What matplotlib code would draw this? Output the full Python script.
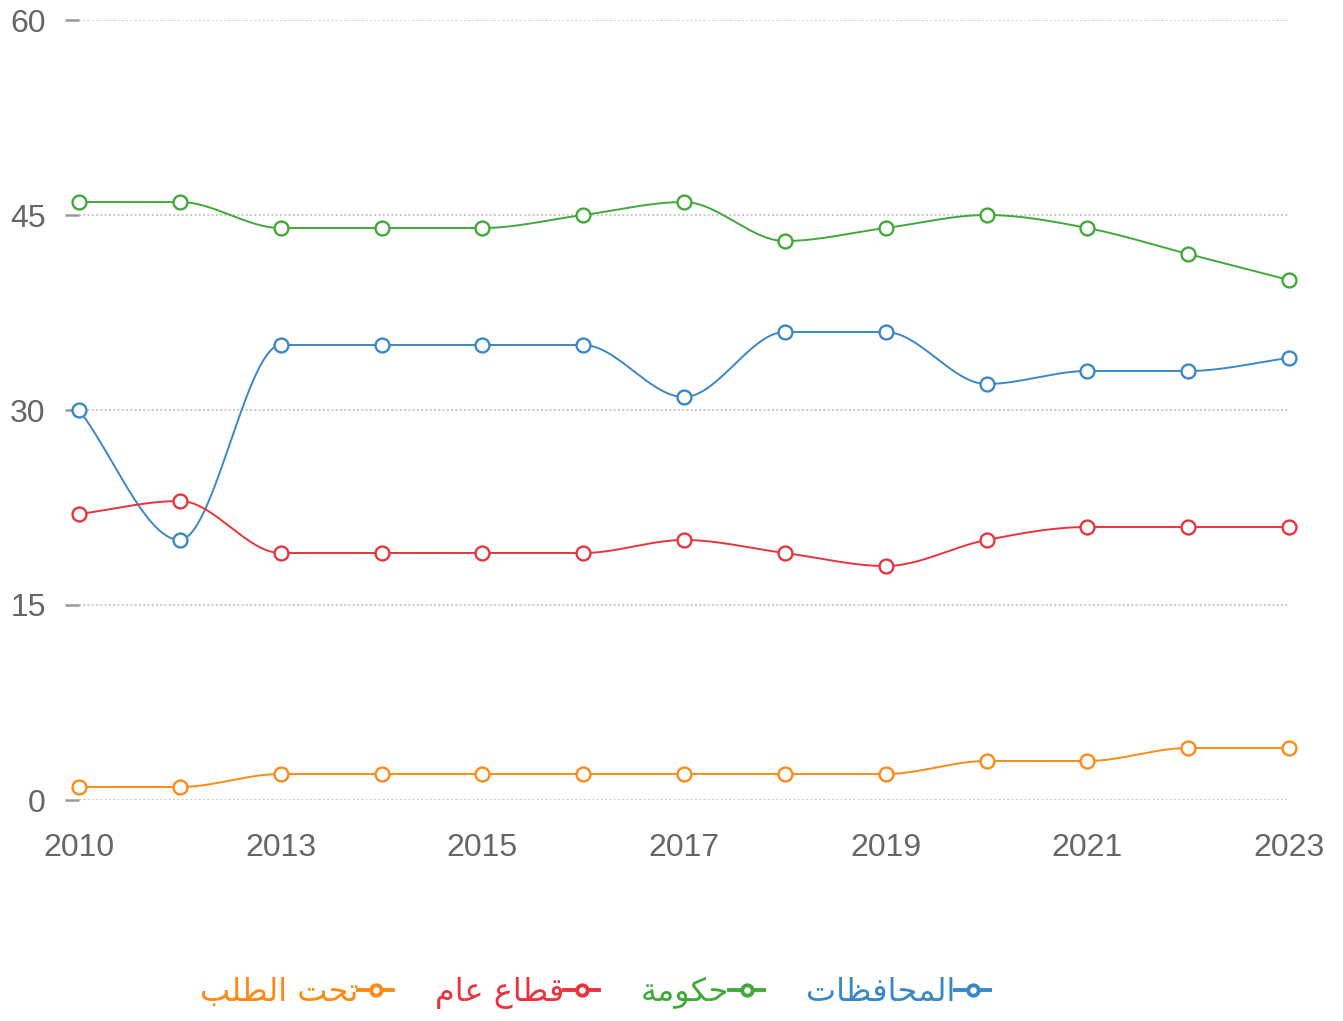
import numpy as np
import matplotlib
matplotlib.use("Agg")
import matplotlib.pyplot as plt
from matplotlib.lines import Line2D

plt.rcParams['font.family'] = ['Liberation Sans', 'DejaVu Sans']

years = ['2010', '2011', '2013', '2014', '2015', '2016', '2017',
         '2018', '2019', '2020', '2021', '2022', '2023']
tick_labels = ['2010', '2013', '2015', '2017', '2019', '2021', '2023']

governorates = [30, 20, 35, 35, 35, 35, 31, 36, 36, 32, 33, 33, 34]
government = [46, 46, 44, 44, 44, 45, 46, 43, 44, 45, 44, 42, 40]
public_sector = [22, 23, 19, 19, 19, 19, 20, 19, 18, 20, 21, 21, 21]
on_demand = [1, 1, 2, 2, 2, 2, 2, 2, 2, 3, 3, 4, 4]

names = ['المحافظات', 'حكومة', 'قطاع عام', 'تحت الطلب']
colors = ['#3a88c8', '#41a93a', '#e8343e', '#fd8a16']

# arabic shaping by hand (matplotlib has no complex text layout)
FORMS = {
    'ا': ('\ufe8d', '\ufe8e', None, None),
    'ب': ('\ufe8f', '\ufe90', '\ufe91', '\ufe92'),
    'ة': ('\ufe93', '\ufe94', None, None),
    'ت': ('\ufe95', '\ufe96', '\ufe97', '\ufe98'),
    'ح': ('\ufea1', '\ufea2', '\ufea3', '\ufea4'),
    'ط': ('\ufec1', '\ufec2', '\ufec3', '\ufec4'),
    'ظ': ('\ufec5', '\ufec6', '\ufec7', '\ufec8'),
    'ع': ('\ufec9', '\ufeca', '\ufecb', '\ufecc'),
    'ف': ('\ufed1', '\ufed2', '\ufed3', '\ufed4'),
    'ق': ('\ufed5', '\ufed6', '\ufed7', '\ufed8'),
    'ك': ('\ufed9', '\ufeda', '\ufedb', '\ufedc'),
    'ل': ('\ufedd', '\ufede', '\ufedf', '\ufee0'),
    'م': ('\ufee1', '\ufee2', '\ufee3', '\ufee4'),
    'و': ('\ufeed', '\ufeee', None, None),
}


def shape(text):
    out = []
    for i, ch in enumerate(text):
        if ch not in FORMS:
            out.append(ch)
            continue
        prev = text[i - 1] if i > 0 else ''
        nxt = text[i + 1] if i + 1 < len(text) else ''
        join_prev = prev in FORMS and FORMS[prev][2] is not None
        join_next = nxt in FORMS and FORMS[ch][2] is not None
        iso, fin, ini, med = FORMS[ch]
        if join_prev and join_next:
            out.append(med)
        elif join_prev:
            out.append(fin)
        elif join_next:
            out.append(ini)
        else:
            out.append(iso)
    return ''.join(reversed(out))


def monotone(x, y, n=30):
    # Fritsch-Carlson monotone cubic, same idea as chart.js "monotone"
    x = np.asarray(x, float)
    y = np.asarray(y, float)
    h = np.diff(x)
    d = np.diff(y) / h
    m = np.zeros_like(y)
    m[0], m[-1] = d[0], d[-1]
    for i in range(1, len(y) - 1):
        if d[i - 1] * d[i] <= 0:
            m[i] = 0
        else:
            m[i] = (d[i - 1] + d[i]) / 2
    for i in range(len(d)):
        if d[i] == 0:
            m[i] = m[i + 1] = 0
        else:
            a, b = m[i] / d[i], m[i + 1] / d[i]
            s = a * a + b * b
            if s > 9:
                t = 3 / np.sqrt(s)
                m[i], m[i + 1] = t * a * d[i], t * b * d[i]
    xs, ys = [], []
    for i in range(len(d)):
        t = np.linspace(0, 1, n)
        h00 = 2 * t**3 - 3 * t**2 + 1
        h10 = t**3 - 2 * t**2 + t
        h01 = -2 * t**3 + 3 * t**2
        h11 = t**3 - t**2
        xs.append(x[i] + t * h[i])
        ys.append(h00 * y[i] + h10 * h[i] * m[i] + h01 * y[i + 1] + h11 * h[i] * m[i + 1])
    return np.concatenate(xs), np.concatenate(ys)


fig = plt.figure(figsize=(13.43, 10.21), dpi=100)
ax = fig.add_axes([79 / 1343, 1 - 800 / 1021, (1289 - 79) / 1343, 780 / 1021])

x = np.arange(len(years))
series = [governorates, government, public_sector, on_demand]
handles = []
for vals, col, name in zip(series, colors, names):
    sx, sy = monotone(x, vals)
    ax.plot(sx, sy, color=col, lw=1.4, clip_on=False, zorder=3)
    ax.plot(x, vals, 'o', ms=10, mfc='white', mec=col, mew=1.7, clip_on=False, zorder=4)
    handles.append(Line2D([], [], color=col, lw=2.8, marker='o', ms=7.5,
                          mfc='white', mec=col, mew=2.8, label=shape(name)))

ax.set_xlim(0, len(years) - 1)
ax.set_ylim(0, 60)
ax.set_yticks([0, 15, 30, 45, 60])
ax.set_xticks(x[::2])
ax.set_xticklabels(tick_labels)
ax.grid(axis='y', color='#c8c8c8', lw=1.4, ls=(0, (1, 1.2)))
ax.set_axisbelow(True)
for s in ax.spines.values():
    s.set_visible(False)
ax.tick_params(axis='y', length=10, width=1.8, color='#999999', pad=14,
               labelsize=23, labelcolor='#666666')
ax.tick_params(axis='x', length=0, pad=24, labelsize=23, labelcolor='#666666')

leg = fig.legend(handles=handles[::-1], loc='center', ncol=4,
                 bbox_to_anchor=(595 / 1343, 1 - 993 / 1021), frameon=False,
                 markerfirst=False, handlelength=1.1, handletextpad=0.0,
                 columnspacing=1.3, prop={'family': ['DejaVu Sans'], 'size': 23})
for txt, col in zip(leg.get_texts(), colors[::-1]):
    txt.set_color(col)

fig.savefig('out.png', dpi=100)
